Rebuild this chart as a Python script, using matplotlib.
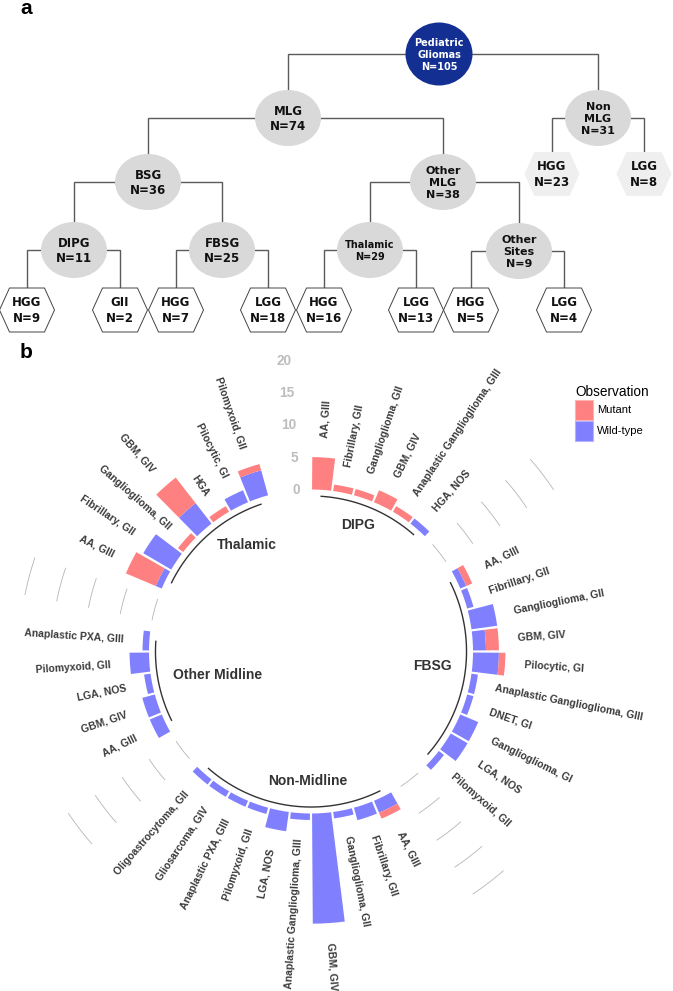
import numpy as np
import matplotlib
matplotlib.use("Agg")
import matplotlib.pyplot as plt
from matplotlib.patches import Ellipse, Polygon, Patch

# ------------------------------------------------------------------ data (panel b)
groups = ["DIPG", "FBSG", "Non-Midline", "Other Midline", "Thalamic"]

dipg_types = ["AA, GIII", "Fibrillary, GII", "Ganglioglioma, GII", "GBM, GIV",
              "Anaplastic Ganglioglioma, GIII", "HGA, NOS"]
dipg_mut = [5, 1, 1, 2, 1, 0]
dipg_wt = [0, 0, 0, 0, 0, 1]

fbsg_types = ["AA, GIII", "Fibrillary, GII", "Ganglioglioma, GII", "GBM, GIV",
              "Pilocytic, GI", "Anaplastic Ganglioglioma, GIII", "DNET, GI",
              "Ganglioglioma, GI", "LGA, NOS", "Pilomyxoid, GII"]
fbsg_mut = [1, 0, 0, 2, 1, 0, 0, 0, 0, 0]
fbsg_wt = [1, 1, 4, 2, 4, 1, 1, 3, 3, 1]

nonmid_types = ["AA, GIII", "Fibrillary, GII", "Ganglioglioma, GII", "GBM, GIV",
                "Anaplastic Ganglioglioma, GIII", "LGA, NOS", "Pilomyxoid, GII",
                "Anaplastic PXA, GIII", "Gliosarcoma, GIV", "Oligoastrocytoma, GII"]
nonmid_mut = [1, 0, 0, 0, 0, 0, 0, 0, 0, 0]
nonmid_wt = [2, 2, 1, 17, 1, 3, 1, 1, 1, 1]

othermid_types = ["AA, GIII", "GBM, GIV", "LGA, NOS", "Pilomyxoid, GII",
                  "Anaplastic PXA, GIII"]
othermid_mut = [0, 0, 0, 0, 0]
othermid_wt = [2, 2, 1, 3, 1]

thal_types = ["AA, GIII", "Fibrillary, GII", "Ganglioglioma, GII", "GBM, GIV",
              "HGA", "Pilocytic, GI", "Pilomyxoid, GII"]
thal_mut = [5, 0, 1, 5, 1, 0, 1]
thal_wt = [1, 5, 0, 4, 0, 2, 4]

axis_ticks = [0, 5, 10, 15, 20]
legend_labels = ["Mutant", "Wild-type"]
legend_title = "Observation"

# ------------------------------------------------------------------ data (panel a: tree)
tree_labels = ["Pediatric\nGliomas", "MLG", "Non\nMLG", "BSG", "Other\nMLG",
               "DIPG", "FBSG", "Thalamic", "Other\nSites",
               "HGG", "GII", "HGG", "LGG", "HGG", "LGG", "HGG", "LGG",
               "HGG", "LGG"]
tree_n = [105, 74, 31, 36, 38, 11, 25, 29, 9, 9, 2, 7, 18, 16, 13, 5, 4, 23, 8]
tree_parent = [None, 0, 0, 1, 1, 3, 3, 4, 4, 5, 5, 6, 6, 7, 7, 8, 8, 2, 2]

# ------------------------------------------------------------------ layout / style
W, H = 673, 991
DPI = 100
RED = "#FF8080"
BLUE = "#8080FF"

# tree layout in pixel coordinates (centre x, centre y, shape)
tree_xy = [(439, 54), (288, 118), (598, 118), (148, 182), (443, 182),
           (74, 250), (222, 250), (370, 250), (519, 251),
           (27, 310), (120, 310), (176, 310), (268, 310), (324, 310),
           (416, 310), (471, 310), (564, 310), (552, 174), (644, 174)]
tree_shape = (["root"] + ["ell"] * 8 + ["hex"] * 8 + ["hexfill"] * 2)

fig = plt.figure(figsize=(W / DPI, H / DPI), dpi=DPI)
fig.patch.set_facecolor("white")

# ------------------------------------------------------------------ panel a
TOP_H = 350
axt = fig.add_axes([0, 1 - TOP_H / H, 1, TOP_H / H])
axt.set_xlim(0, W)
axt.set_ylim(TOP_H, 0)
axt.set_axis_off()

tree_font = ["DejaVu Sans"]
ell_w, ell_h = 66, 56
hex_w, hex_h, hex_in = 55, 44, 10

def node_top(i):
    s = tree_shape[i]
    x, y = tree_xy[i]
    if s in ("hex", "hexfill"):
        return y - hex_h / 2
    if s == "root":
        return y - 31
    return y - ell_h / 2

for i, p in enumerate(tree_parent):
    if p is None:
        continue
    px_, py_ = tree_xy[p]
    cx_, cy_ = tree_xy[i]
    axt.plot([px_, cx_, cx_], [py_, py_, node_top(i)], color="#5a5a5a",
             lw=1.0, zorder=1, solid_joinstyle="miter")

for i, lab in enumerate(tree_labels):
    x, y = tree_xy[i]
    s = tree_shape[i]
    txt = f"{lab}\nN={tree_n[i]}"
    color = "#111111"
    fs = 8.5
    if s == "root":
        axt.add_patch(Ellipse((x, y), 67, 63, facecolor="#132F91",
                              edgecolor="none", zorder=2))
        color = "white"
        fs = 7.0
        ls = 1.3
    elif s == "ell":
        axt.add_patch(Ellipse((x, y), ell_w, ell_h, facecolor="#D9D9D9",
                              edgecolor="none", zorder=2))
        ls = 1.25
        if lab == "Thalamic":
            fs = 7.0
        elif "\n" in lab:
            fs = 8.0
    else:
        pts = [(x - hex_w / 2, y), (x - hex_w / 2 + hex_in, y - hex_h / 2),
               (x + hex_w / 2 - hex_in, y - hex_h / 2), (x + hex_w / 2, y),
               (x + hex_w / 2 - hex_in, y + hex_h / 2),
               (x - hex_w / 2 + hex_in, y + hex_h / 2)]
        if s == "hex":
            axt.add_patch(Polygon(pts, closed=True, facecolor="white",
                                  edgecolor="#444444", lw=0.7, zorder=2))
        else:
            axt.add_patch(Polygon(pts, closed=True, facecolor="#EFEFEF",
                                  edgecolor="none", zorder=2))
        ls = 1.3
    axt.text(x, y + 1, txt, ha="center", va="center", fontsize=fs,
             color=color, family=tree_font, weight="bold",
             linespacing=ls, zorder=3)

fig.text(26 / W, 1 - 8 / H, "a", ha="center", va="center", fontsize=15,
         weight="bold", family=["Liberation Sans", "DejaVu Sans"])
fig.text(26 / W, 1 - 353 / H, "b", ha="center", va="center", fontsize=15,
         weight="bold", family=["Liberation Sans", "DejaVu Sans"])

# ------------------------------------------------------------------ panel b
plt.rcParams["font.family"] = ["Liberation Sans", "DejaVu Sans"]

cx, cy = 311, 651.5
px_unit = 6.48
r_hole = 25.0
r_top = 22.0
R_px = px_unit * (r_hole + r_top)
ax = fig.add_axes([(cx - R_px) / W, 1 - (cy + R_px) / H, 2 * R_px / W,
                   2 * R_px / H], projection="polar")
ax.set_theta_zero_location("N")
ax.set_theta_direction(-1)
ax.set_ylim(-r_hole, r_top)
ax.set_axis_off()

types_all = [dipg_types, fbsg_types, nonmid_types, othermid_types, thal_types]
mut_all = [dipg_mut, fbsg_mut, nonmid_mut, othermid_mut, thal_mut]
wt_all = [dipg_wt, fbsg_wt, nonmid_wt, othermid_wt, thal_wt]
empty_bar = 2

ids, labs, muts, wts, gstart, gend = [], [], [], [], [], []
cur = 0
for t, m, w in zip(types_all, mut_all, wt_all):
    gstart.append(cur + 1)
    for k in range(len(t)):
        cur += 1
        ids.append(cur)
        labs.append(t[k])
        muts.append(m[k])
        wts.append(w[k])
    gend.append(cur)
    cur += empty_bar
NB = cur
ids = np.array(ids)
muts = np.array(muts, float)
wts = np.array(wts, float)

def th(x):
    return 2 * np.pi * (np.asarray(x, float) - 0.5) / NB

width = 0.9 * 2 * np.pi / NB
ax.bar(th(ids), wts, width=width, bottom=0, color=BLUE, lw=0, zorder=2)
ax.bar(th(ids), muts, width=width, bottom=wts, color=RED, lw=0, zorder=2)

# bar labels
tot = muts + wts
for i, lab, v in zip(ids, labs, tot):
    ang = 90 - 360 * (i - 0.5) / NB
    if ang < -90:
        ha, rot = "right", ang + 180
    else:
        ha, rot = "left", ang
    ax.text(th(i), v + 3.0, lab, rotation=rot, rotation_mode="anchor",
            ha=ha, va="center", fontsize=7.5, weight="bold", color="#3a3a3a")

# grey reference segments in the gaps
for g in range(1, len(groups)):
    tt = np.linspace(th(gend[g - 1] + 1), th(gstart[g] - 1), 30)
    for yv in axis_ticks:
        ax.plot(tt, np.full_like(tt, yv), color="#B5B5B5", lw=0.6, zorder=1)

# axis value labels
for yv in axis_ticks:
    ax.text(th(NB), yv, str(yv), ha="right", va="center", fontsize=9.8,
            weight="bold", color="#BDBDBD")

# group base lines + titles
g_ha = ["center", "right", "center", "left", "left"]
g_off = [(-5, 2), (7, 3), (14, 4), (-6, 3), (-5, 5)]
for g, name in enumerate(groups):
    tt = np.linspace(th(gstart[g]), th(gend[g]), 60)
    ax.plot(tt, np.full_like(tt, -1.0), color="#333333", lw=1.0, zorder=2,
            clip_on=False)
    title = (gstart[g] + gend[g]) / 2
    ax.annotate(name, (th(title), -4.2), xytext=(g_off[g][0] * 72 / DPI,
                g_off[g][1] * 72 / DPI), textcoords="offset points",
                ha=g_ha[g], va="center", fontsize=10, weight="bold",
                color="#333333")

# legend
handles = [Patch(facecolor=RED, edgecolor="#FFB3B3", lw=0.8),
           Patch(facecolor=BLUE, edgecolor="#B3B3FF", lw=0.8)]
leg = fig.legend(handles, legend_labels, title=legend_title, loc="upper left",
                 bbox_to_anchor=(575 / W, 1 - 385 / H), frameon=False,
                 fontsize=8, title_fontsize=9.8, handlelength=1.65,
                 handleheight=2.35, handletextpad=0.3, labelspacing=0.1,
                 borderpad=0, borderaxespad=0, alignment="left")

fig.savefig("out.png", dpi=DPI)
